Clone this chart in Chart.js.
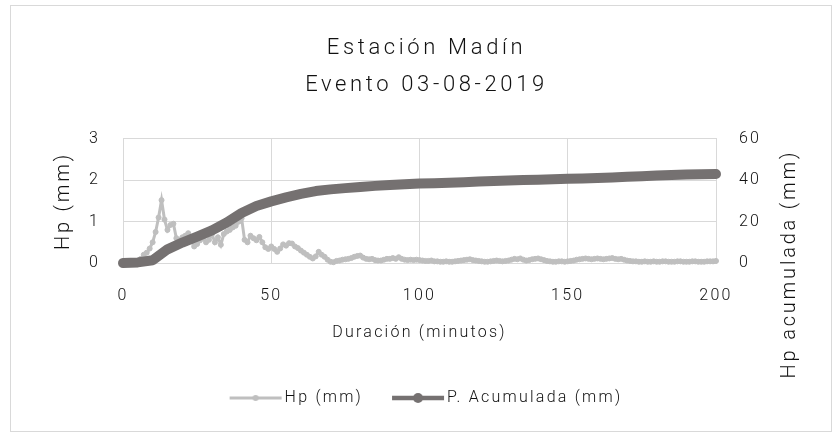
<!DOCTYPE html>
<html>
<head>
<meta charset="utf-8">
<script src="https://cdn.jsdelivr.net/npm/chart.js@4"></script>
<style>
  html, body { margin: 0; padding: 0; background: #fff; }
  canvas { display: block; }
</style>
</head>
<body>
<canvas id="grafico" width="835" height="435"></canvas>
<script>
const FUENTE = "Roboto, 'DejaVu Sans', sans-serif";
const PESO = 300;
const TEXTO = '#111111';

// minutos de la serie Hp (cada minuto)
const minutos = [
  0,1,2,3,4,5,6,7,8,9,10,11,12,13,14,15,16,17,18,19,20,21,22,23,24,25,26,27,28,29,
  30,31,32,33,34,35,36,37,38,39,40,41,42,43,44,45,46,47,48,49,50,51,52,53,54,55,56,57,58,59,
  60,61,62,63,64,65,66,67,68,69,70,71,72,73,74,75,76,77,78,79,80,81,82,83,84,85,86,87,88,89,
  90,91,92,93,94,95,96,97,98,99,100,101,102,103,104,105,106,107,108,109,110,111,112,113,114,115,116,117,118,119,
  120,121,122,123,124,125,126,127,128,129,130,131,132,133,134,135,136,137,138,139,140,141,142,143,144,145,146,147,148,149,
  150,151,152,153,154,155,156,157,158,159,160,161,162,163,164,165,166,167,168,169,170,171,172,173,174,175,176,177,178,179,
  180,181,182,183,184,185,186,187,188,189,190,191,192,193,194,195,196,197,198,199,200
];

// Hp (mm) por minuto
const hp = [
  0,0,0,0,0.02,0.05,0.1,0.2,0.25,0.35,
  0.5,0.75,1.1,1.52,1.05,0.8,0.92,0.95,0.6,0.55,
  0.62,0.66,0.72,0.55,0.4,0.46,0.55,0.6,0.5,0.56,
  0.7,0.5,0.62,0.44,0.7,0.76,0.8,0.86,0.9,1.0,
  1.08,0.56,0.5,0.66,0.6,0.55,0.63,0.5,0.38,0.34,
  0.4,0.34,0.27,0.35,0.45,0.42,0.48,0.47,0.4,0.36,
  0.3,0.25,0.2,0.15,0.11,0.16,0.27,0.2,0.15,0.08,
  0.03,0.02,0.05,0.06,0.08,0.09,0.1,0.12,0.15,0.17,
  0.18,0.13,0.1,0.09,0.1,0.07,0.06,0.06,0.08,0.1,
  0.1,0.12,0.1,0.14,0.1,0.08,0.07,0.08,0.07,0.08,
  0.07,0.06,0.05,0.05,0.06,0.04,0.04,0.03,0.03,0.04,
  0.03,0.03,0.04,0.05,0.06,0.07,0.08,0.09,0.07,0.06,
  0.05,0.04,0.03,0.03,0.04,0.05,0.06,0.05,0.04,0.05,
  0.06,0.08,0.1,0.09,0.11,0.08,0.06,0.07,0.09,0.1,
  0.11,0.09,0.07,0.05,0.04,0.03,0.03,0.04,0.04,0.03,
  0.04,0.05,0.06,0.08,0.09,0.1,0.11,0.1,0.09,0.1,
  0.11,0.1,0.09,0.1,0.11,0.12,0.1,0.09,0.1,0.08,
  0.06,0.05,0.04,0.04,0.03,0.03,0.04,0.03,0.03,0.04,
  0.03,0.03,0.04,0.04,0.03,0.03,0.03,0.04,0.04,0.03,
  0.03,0.03,0.04,0.04,0.03,0.03,0.03,0.04,0.04,0.04,
  0.05
];

// P. Acumulada (mm), leida cada 5 minutos
const minutosAcum = [0,5,10,15,20,25,30,35,40,45,50,55,60,65,70,75,80,85,90,95,100,
  105,110,115,120,125,130,135,140,145,150,155,160,165,170,175,180,185,190,195,200];
const acumulada = [0,0.3,1.3,6.6,9.9,12.8,15.8,19.6,24.2,27.6,29.8,31.7,33.4,34.8,35.6,36.2,36.8,37.3,37.7,38.1,38.4,
  38.6,38.8,39.1,39.4,39.7,39.9,40.1,40.3,40.5,40.7,40.9,41.1,41.4,41.7,42.0,42.3,42.6,42.8,42.9,43.0];

const ticksX = [0, 50, 100, 150, 200];

// simbolo de leyenda: linea con marcador al centro
function simbolo(color, grosor, radio) {
  const c = document.createElement('canvas');
  c.width = 64; c.height = 12;
  const g = c.getContext('2d');
  g.strokeStyle = color; g.lineWidth = grosor;
  g.beginPath(); g.moveTo(8, 6); g.lineTo(60, 6); g.stroke();
  g.fillStyle = color;
  g.beginPath(); g.arc(34, 6, radio, 0, Math.PI * 2); g.fill();
  return c;
}
const simbolos = [simbolo('#bfbfbf', 3, 3), simbolo('#757171', 4.5, 5)];

const ctx = document.getElementById('grafico').getContext('2d');

// espaciado entre letras segun el tamano de la fuente (letra tipo ISOCPEUR)
function ajustarEspaciado(c) {
  const m = /(\d+(?:\.\d+)?)px/.exec(c.font);
  const t = m ? parseFloat(m[1]) : 16;
  c.letterSpacing = (t * (t >= 22 ? 0.165 : 0.14)).toFixed(2) + 'px';
}
const fillOrig = ctx.fillText.bind(ctx);
const measureOrig = ctx.measureText.bind(ctx);
ctx.fillText = function (t, x, y, w) { ajustarEspaciado(ctx); return w === undefined ? fillOrig(t, x, y) : fillOrig(t, x, y, w); };
ctx.measureText = function (t) { ajustarEspaciado(ctx); return measureOrig(t); };

const marco = {
  id: 'marco',
  beforeDraw(chart) {
    const c = chart.ctx;
    c.save();
    c.fillStyle = '#fff';
    c.fillRect(0, 0, chart.width, chart.height);
    c.strokeStyle = '#d9d9d9';
    c.lineWidth = 1;
    c.strokeRect(10.5, 5.5, 821, 426);
    c.restore();
  },
  afterDraw(chart) {
    // titulo del eje derecho, leido de abajo hacia arriba como en Excel
    const c = chart.ctx;
    const area = chart.chartArea;
    c.save();
    c.translate(area.right + 74, area.bottom + 1);
    c.rotate(-Math.PI / 2);
    c.font = PESO + ' 20px ' + FUENTE;
    c.fillStyle = TEXTO;
    c.textAlign = 'center';
    c.textBaseline = 'middle';
    c.fillText('Hp acumulada (mm)', 0, 0);
    c.restore();
  }
};

new Chart(ctx, {
  type: 'line',
  data: {
    datasets: [
      {
        label: 'Hp (mm)',
        data: minutos.map((m, i) => ({ x: m, y: hp[i] })),
        yAxisID: 'y',
        borderColor: '#bfbfbf',
        backgroundColor: '#bfbfbf',
        borderWidth: 3,
        pointRadius: 2.5,
        pointBorderWidth: 1,
        pointBorderColor: '#bfbfbf',
        pointBackgroundColor: '#bfbfbf',
        tension: 0,
        clip: false,
        order: 2
      },
      {
        label: 'P. Acumulada (mm)',
        data: minutosAcum.map((m, i) => ({ x: m, y: acumulada[i] })),
        yAxisID: 'y1',
        borderColor: '#757171',
        backgroundColor: '#757171',
        borderWidth: 10,
        borderCapStyle: 'round',
        borderJoinStyle: 'round',
        pointRadius: 0,
        tension: 0,
        clip: false,
        order: 1
      }
    ]
  },
  options: {
    responsive: false,
    animation: false,
    devicePixelRatio: 1,
    layout: { padding: { left: 18, right: 0, top: 0, bottom: 19 } },
    plugins: {
      tooltip: { enabled: false },
      title: {
        display: true,
        text: ['Estación Madín', 'Evento 03-08-2019'],
        color: TEXTO,
        font: { family: FUENTE, size: 22, weight: PESO, lineHeight: 1.68 },
        padding: { top: 30.5, bottom: 34.5 }
      },
      legend: {
        position: 'bottom',
        labels: {
          color: TEXTO,
          font: { family: FUENTE, size: 16, weight: PESO },
          usePointStyle: true,
          pointStyleWidth: 46,
          padding: 30,
          generateLabels(chart) {
            return chart.data.datasets.map((ds, i) => ({
              text: ds.label,
              pointStyle: simbolos[i],
              fillStyle: ds.borderColor,
              strokeStyle: ds.borderColor,
              lineWidth: 0,
              hidden: false,
              datasetIndex: i,
              fontColor: TEXTO
            }));
          }
        }
      }
    },
    scales: {
      x: {
        type: 'linear',
        min: 0,
        max: 200,
        afterBuildTicks(scale) { scale.ticks = ticksX.map(v => ({ value: v })); },
        afterFit(scale) { scale.height = 97; },
        grid: { color: '#d9d9d9', drawTicks: false },
        border: { color: '#d9d9d9' },
        ticks: { color: TEXTO, font: { family: FUENTE, size: 16, weight: PESO }, padding: 23.4, maxRotation: 0 },
        title: {
          display: true,
          text: 'Duración (minutos)',
          color: TEXTO,
          font: { family: FUENTE, size: 16, weight: PESO },
          padding: { top: 17.8, bottom: 17.4 }
        }
      },
      y: {
        position: 'left',
        min: 0,
        max: 3,
        afterFit(scale) { scale.width = 105; },
        grid: { color: '#d9d9d9', drawTicks: false },
        border: { color: '#d9d9d9' },
        ticks: { stepSize: 1, color: TEXTO, font: { family: FUENTE, size: 16, weight: PESO }, padding: 23 },
        title: {
          display: true,
          text: 'Hp (mm)',
          color: TEXTO,
          font: { family: FUENTE, size: 20, weight: PESO },
          padding: { top: 34, bottom: 0 }
        }
      },
      y1: {
        position: 'right',
        min: 0,
        max: 60,
        afterFit(scale) { scale.width = 119; },
        grid: { drawOnChartArea: false, drawTicks: false },
        border: { color: '#d9d9d9' },
        ticks: { stepSize: 20, color: TEXTO, font: { family: FUENTE, size: 16, weight: PESO }, padding: 23 }
      }
    }
  },
  plugins: [marco]
});
</script>
</body>
</html>
